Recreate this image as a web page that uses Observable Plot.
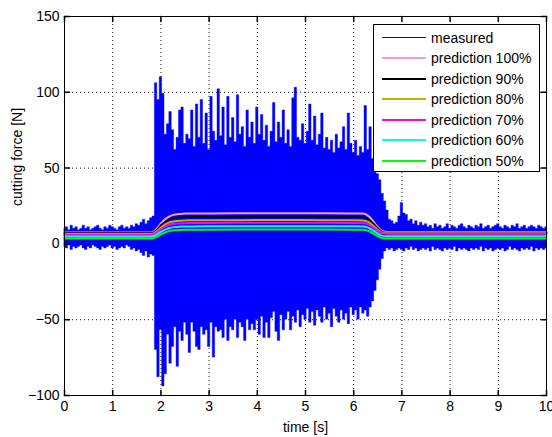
<!DOCTYPE html>
<html><head><meta charset="utf-8">
<script src="https://cdn.jsdelivr.net/npm/d3@7"></script>
<script src="https://cdn.jsdelivr.net/npm/@observablehq/plot@0.6"></script>
<style>
body{margin:0;background:#fff;}
#wrap{position:relative;width:552px;height:437px;font-family:"Liberation Sans",Arial,sans-serif;}
#legend{position:absolute;left:373px;top:24px;width:167px;height:148px;background:#fff;border:1px solid #000;box-sizing:border-box;}
.row{position:absolute;left:0;height:20px;width:160px;}
.sw{position:absolute;left:8px;width:44px;top:10px;}
.lb{position:absolute;left:57px;top:2px;font-size:14px;line-height:16px;color:#000;white-space:nowrap;}
</style></head>
<body><div id="wrap"><div id="legend"></div></div>
<script>
// ---- data ----
const step = 0.05;
const upper = [10,11,9,12,10,11,9,10,12,10, 11,9,10,11,12,10,9,11,10,12, 11,10,9,11,12,10,11,10,12,11, 13,12,14,16,13,15,17,
 18,
 106,95,110,99,72,79,87,75,62,70, 88,90,66,72,69,88,64,92,70,95, 66,86,62,97,74,68,102,71,90,65, 97,70,83,67,98,72,77,64,88,70, 80,66,90,72,85,68,78,64,74,93, 67,80,70,88,66,75,64,96,103,70, 68,79,66,74,92,68,84,65,72,86, 63,70,62,68,60,72,63,67,77,62, 86,66,60,68,58,64,60,91,62,77, 56,50,
 46,42,33,28,22,16,15,13,14,18, 27,20,19,15,16,13,15,12,14,12, 13,11,12,10,13,11,12,10,11,13, 10,12,11,10,12,13,11,10,12,11, 10,12,11,13,10,11,12,10,11,12, 13,11,10,12,11,10,12,11,13,10, 11,12,10,11,12,11,10,12,11,10, 11];
const lower = [-2,-3,-1,-4,-2,-3,-2,-1,-3,-4, -2,-3,-1,-2,-3,-4,-2,-3,-2,-1, -3,-2,-4,-3,-2,-3,-1,-2,-4,-3, -5,-4,-6,-8,-5,-9,-7,
 -8,
 -70,-88,-57,-94,-86,-60,-79,-68,-55,-81, -58,-64,-52,-60,-72,-52,-58,-68,-70,-55, -60,-57,-68,-52,-75,-55,-58,-57,-62,-50, -64,-55,-57,-50,-62,-52,-55,-64,-50,-57, -53,-57,-50,-60,-48,-62,-52,-62,-49,-45, -58,-64,-47,-57,-50,-45,-57,-48,-52,-44, -55,-47,-50,-43,-52,-45,-54,-44,-48,-52, -42,-50,-46,-55,-43,-48,-52,-44,-50,-46, -53,-42,-47,-44,-50,-42,-46,-44,-48,-42, -38,-31,
 -24,-17,-10,-5,-3,-4,-3,-5,-4,-3, -4,-5,-3,-4,-2,-4,-3,-5,-4,-3, -4,-3,-5,-2,-4,-3,-4,-5,-3,-4, -3,-4,-2,-5,-3,-4,-3,-4,-5,-3, -4,-3,-4,-2,-5,-3,-4,-3,-5,-4, -3,-4,-3,-5,-4,-2,-4,-3,-4,-5, -3,-4,-3,-4,-2,-5,-3,-4,-3,-4, -3];

const predT = [0, 1, 1.8, 1.9, 2.0, 2.1, 2.2, 2.3, 2.4, 2.5, 3, 4, 5, 6, 6.2, 6.3, 6.4, 6.5, 6.6, 6.7, 8, 10];
const p100 = [7.5,7.5,7.5,9.5,13.5,16.5,18.5,19.4,19.8,20,20.1,20.2,20.2,20.1,20,18.5,15.1,11.1,8.3,7.8,7.8,7.8];
const p90  = [7.0,7.0,7.0,8.7,12.2,14.8,16.5,17.3,17.6,17.8,17.9,18.0,18.0,17.9,17.8,16.5,13.6,10.1,7.7,7.3,7.3,7.3];
const p80  = [6.5,6.5,6.5,7.9,10.8,13.0,14.4,15.0,15.3,15.5,15.6,15.7,15.7,15.6,15.5,14.5,12.1,9.3,7.3,7.0,7.0,7.0];
const p70  = [6.0,6.0,6.0,7.2,9.7,11.5,12.8,13.3,13.5,13.7,13.8,13.9,13.9,13.8,13.7,12.9,10.9,8.6,7.0,6.7,6.7,6.7];
const p60  = [4.8,4.8,4.8,5.9,8.0,9.6,10.7,11.2,11.4,11.5,11.6,11.7,11.7,11.6,11.5,10.7,8.9,6.8,5.3,5.0,5.0,5.0];
const p50  = [3.6,3.6,3.6,4.5,6.3,7.7,8.6,9.0,9.2,9.3,9.4,9.5,9.5,9.4,9.3,8.6,7.0,5.1,3.8,3.6,3.6,3.6];

const seriesNames = ["measured","prediction 100%","prediction 90%","prediction 80%","prediction 70%","prediction 60%","prediction 50%"];
const seriesColors = ["#0000ff","#ff99cc","#000000","#c0b000","#ff00ff","#00ffff","#00ff00"];
const predSeries = [p100,p90,p80,p70,p60,p50];

const xTicks = [0,1,2,3,4,5,6,7,8,9,10];
const yTicks = [-100,-50,0,50,100,150];
const xLabel = "time [s]";
const yLabel = "cutting force [N]";

// ---- build ----
const env = upper.map((u, i) => ({t: i * step, hi: u, lo: lower[i]}));
const predMarks = predSeries.map((s, k) =>
  Plot.line(predT.map((t, i) => ({t, v: s[i]})), {x: "t", y: "v", stroke: seriesColors[k+1], strokeWidth: 2, curve: "monotone-x"})
);
const tickShape = {draw(context, l) { context.moveTo(0, 0); context.lineTo(0, -l); }};

const chart = Plot.plot({
  width: 552, height: 437,
  marginLeft: 64, marginRight: 6, marginTop: 16, marginBottom: 42,
  style: {fontFamily: "'Liberation Sans', Arial, sans-serif", fontSize: "14px", color: "#000", background: "#fff"},
  x: {domain: [0, 10]},
  y: {domain: [-100, 150]},
  marks: [
    Plot.gridX({ticks: xTicks, stroke: "#000", strokeOpacity: 0.9, strokeDasharray: "1,3"}),
    Plot.gridY({ticks: yTicks, stroke: "#000", strokeOpacity: 0.9, strokeDasharray: "1,3"}),
    Plot.areaY(env, {x: "t", y1: "lo", y2: "hi", fill: seriesColors[0], stroke: seriesColors[0], strokeWidth: 0.4, curve: "step"}),
    ...predMarks,
    Plot.frame({stroke: "#000"}),
    Plot.vector(xTicks, {x: d => d, y: -100, length: 5, rotate: 0, anchor: "start", shape: tickShape, stroke: "#000"}),
    Plot.vector(xTicks, {x: d => d, y: 150, length: 5, rotate: 180, anchor: "start", shape: tickShape, stroke: "#000"}),
    Plot.vector(yTicks, {x: 0, y: d => d, length: 5, rotate: 90, anchor: "start", shape: tickShape, stroke: "#000"}),
    Plot.vector(yTicks, {x: 10, y: d => d, length: 5, rotate: 270, anchor: "start", shape: tickShape, stroke: "#000"}),
    Plot.axisX({ticks: xTicks, tickSize: 0, tickPadding: 6, label: null, fontSize: 14}),
    Plot.axisY({ticks: yTicks, tickSize: 0, tickPadding: 5, label: null, fontSize: 14}),
    Plot.text([xLabel], {frameAnchor: "bottom", dy: 36, text: d => d, fontSize: 14, fill: "#000"}),
    Plot.text([yLabel], {frameAnchor: "left", dx: -47, rotate: -90, text: d => d, fontSize: 14, fill: "#000"})
  ]
});
const wrap = document.getElementById("wrap");
wrap.insertBefore(chart, wrap.firstChild);

const legend = document.getElementById("legend");
seriesNames.forEach((name, i) => {
  const row = document.createElement("div");
  row.className = "row";
  row.style.top = (2.5 + i * 20.55) + "px";
  const sw = document.createElement("div");
  sw.className = "sw";
  const w = i === 0 ? 1 : 2;
  sw.style.height = w + "px";
  sw.style.marginTop = (-w/2) + "px";
  sw.style.background = seriesColors[i];
  const lb = document.createElement("div");
  lb.className = "lb";
  lb.textContent = name;
  row.appendChild(sw); row.appendChild(lb);
  legend.appendChild(row);
});
</script>
</body></html>
